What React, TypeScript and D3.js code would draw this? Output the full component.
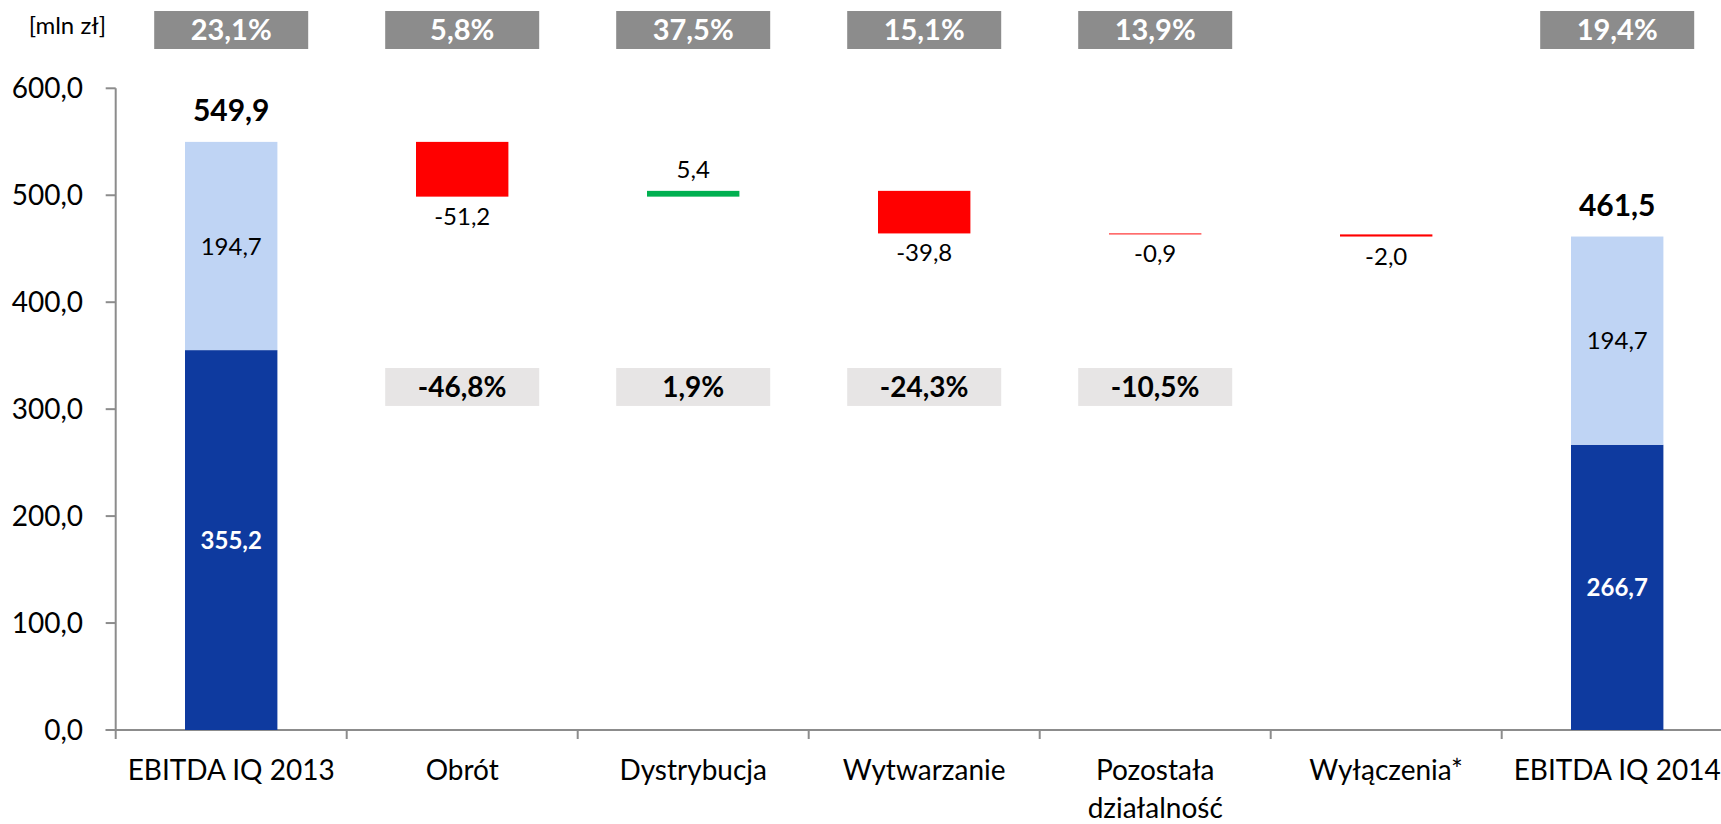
import React, { useEffect, useRef } from "react";
import * as d3 from "d3";

const categories = [
  "EBITDA IQ 2013",
  "Obrót",
  "Dystrybucja",
  "Wytwarzanie",
  "Pozostała działalność",
  "Wyłączenia*",
  "EBITDA IQ 2014",
];
// stacked totals (first and last column)
const totalDark = [355.2, 266.7];
const totalLight = [194.7, 194.7];
const totalLabels = [549.9, 461.5];
// changes between the totals
const changes = [-51.2, 5.4, -39.8, -0.9, -2.0];
// grey boxes on top (share in segment), null = no box
const topShares = ["23,1%", "5,8%", "37,5%", "15,1%", "13,9%", null, "19,4%"];
// light boxes in the middle (y/y change), index = category
const changeShares = [null, "-46,8%", "1,9%", "-24,3%", "-10,5%", null, null];
const yTicks = [0, 100, 200, 300, 400, 500, 600];

const FONT = "Lato, 'Open Sans', sans-serif";
const locale = d3.formatLocale({ decimal: ",", thousands: " ", grouping: [3], currency: ["", " zł"], minus: "-" });
const fmt = locale.format(".1f");

const App = () => {
  const chartRef = useRef<SVGSVGElement>(null);

  useEffect(() => {
    const svg = d3.select(chartRef.current);
    svg.selectAll("*").remove();

    const width = 1721;
    const height = 824;
    const left = 115.7;

    const x = d3.scaleBand().domain(categories).range([left, left + 231 * 7]).paddingInner(0.6).paddingOuter(0.3);
    const y = d3.scaleLinear().domain([0, 600]).range([730, 88.3]);
    const step = x.step();

    svg.attr("width", width).attr("height", height);

    // axes
    const axisColor = "#8c8c8c";
    svg.append("line").attr("x1", left).attr("x2", left).attr("y1", y(600)).attr("y2", y(0))
      .attr("stroke", axisColor).attr("stroke-width", 2);
    svg.append("line").attr("x1", left - 10).attr("x2", width).attr("y1", y(0)).attr("y2", y(0))
      .attr("stroke", axisColor).attr("stroke-width", 2);

    yTicks.forEach((t) => {
      svg.append("line").attr("x1", left - 10).attr("x2", left).attr("y1", y(t)).attr("y2", y(t))
        .attr("stroke", axisColor).attr("stroke-width", 2);
      svg.append("text").attr("x", 83).attr("y", y(t)).attr("dy", "0.36em")
        .attr("text-anchor", "end").attr("font-family", FONT).attr("font-size", 28)
        .attr("fill", "#000").text(fmt(t));
    });

    for (let i = 0; i <= categories.length; i++) {
      const xx = left + i * step;
      svg.append("line").attr("x1", xx).attr("x2", xx).attr("y1", y(0)).attr("y2", y(0) + 9)
        .attr("stroke", axisColor).attr("stroke-width", 2);
    }

    categories.forEach((c) => {
      const cx = (x(c) as number) + x.bandwidth() / 2;
      const words = c === "Pozostała działalność" ? ["Pozostała", "działalność"] : [c];
      words.forEach((w, j) => {
        svg.append("text").attr("x", cx).attr("y", 780 + j * 38).attr("text-anchor", "middle")
          .attr("font-family", FONT).attr("font-size", 28).attr("fill", "#000").text(w);
      });
    });

    svg.append("text").attr("x", 106).attr("y", 34).attr("text-anchor", "end")
      .attr("font-family", FONT).attr("font-size", 24).attr("fill", "#000").text("[mln zł]");

    // top grey boxes
    topShares.forEach((s, i) => {
      if (!s) return;
      const cx = (x(categories[i]) as number) + x.bandwidth() / 2;
      svg.append("rect").attr("x", cx - 77).attr("y", 11).attr("width", 154).attr("height", 38)
        .attr("fill", "#8c8c8c");
      svg.append("text").attr("x", cx).attr("y", 30).attr("dy", "0.36em").attr("text-anchor", "middle")
        .attr("font-family", FONT).attr("font-weight", "bold").attr("font-size", 29)
        .attr("fill", "#fff").text(s);
    });

    // middle boxes
    changeShares.forEach((s, i) => {
      if (!s) return;
      const cx = (x(categories[i]) as number) + x.bandwidth() / 2;
      svg.append("rect").attr("x", cx - 77).attr("y", y(338.5)).attr("width", 154)
        .attr("height", y(303) - y(338.5)).attr("fill", "#e7e5e5");
      svg.append("text").attr("x", cx).attr("y", (y(338.5) + y(303)) / 2).attr("dy", "0.36em")
        .attr("text-anchor", "middle").attr("font-family", FONT).attr("font-weight", "bold")
        .attr("font-size", 28).attr("fill", "#000").text(s);
    });

    // total columns
    const totals = [0, categories.length - 1];
    totals.forEach((ci, k) => {
      const bx = x(categories[ci]) as number;
      const bw = x.bandwidth();
      const d = totalDark[k];
      const l = totalLight[k];
      svg.append("rect").attr("x", bx).attr("width", bw).attr("y", y(d)).attr("height", y(0) - y(d))
        .attr("fill", "#0e3a9f");
      svg.append("rect").attr("x", bx).attr("width", bw).attr("y", y(d + l)).attr("height", y(d) - y(d + l))
        .attr("fill", "#bfd4f4");
      svg.append("text").attr("x", bx + bw / 2).attr("y", (y(d) + y(0)) / 2).attr("dy", "0.36em")
        .attr("text-anchor", "middle").attr("font-family", FONT).attr("font-weight", "bold")
        .attr("font-size", 24).attr("fill", "#fff").text(fmt(d));
      svg.append("text").attr("x", bx + bw / 2).attr("y", (y(d) + y(d + l)) / 2).attr("dy", "0.36em")
        .attr("text-anchor", "middle").attr("font-family", FONT).attr("font-size", 24)
        .attr("fill", "#000").text(fmt(l));
      svg.append("text").attr("x", bx + bw / 2).attr("y", y(d + l) - 21)
        .attr("text-anchor", "middle").attr("font-family", FONT).attr("font-weight", "bold")
        .attr("font-size", 30).attr("fill", "#000").text(fmt(totalLabels[k]));
    });

    // floating change bars
    let running = totalDark[0] + totalLight[0];
    changes.forEach((v, i) => {
      const c = categories[i + 1];
      const bx = x(c) as number;
      const bw = x.bandwidth();
      const lo = Math.min(running, running + v);
      const hi = Math.max(running, running + v);
      svg.append("rect").attr("x", bx).attr("width", bw).attr("y", y(hi)).attr("height", y(lo) - y(hi))
        .attr("fill", v < 0 ? "#ff0000" : "#00b050");
      const ly = v < 0 ? y(lo) + 28 : y(hi) - 13;
      svg.append("text").attr("x", bx + bw / 2).attr("y", ly).attr("text-anchor", "middle")
        .attr("font-family", FONT).attr("font-size", 24).attr("fill", "#000").text(fmt(v));
      running += v;
    });
  }, []);

  return <svg ref={chartRef} style={{ position: "absolute", left: 0, top: 0 }}></svg>;
};

export default App;
